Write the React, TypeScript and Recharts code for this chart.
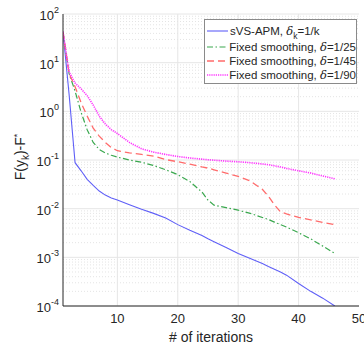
import React from 'react';
import { LineChart, Line, XAxis, YAxis, CartesianGrid, Legend, Label } from 'recharts';

const iterations = [1, 2, 3, 4, 5, 6, 7, 8, 9, 10, 12, 14, 16, 18, 20, 22, 24, 25, 26, 28, 30, 32, 34, 35, 36, 37, 38, 40, 42, 44, 46];

const sVsApm = [43, 2.3, 0.088, 0.06, 0.04, 0.03, 0.023, 0.019, 0.0165, 0.015, 0.012, 0.0097, 0.008, 0.0064, 0.0047, 0.0036, 0.0028, 0.0024, 0.0021, 0.0016, 0.0012, 0.00095, 0.00075, 0.00065, 0.00057, 0.0005, 0.00043, 0.00029, 0.0002, 0.000145, 0.0001];
const fixed25 = [43, 6, 2.6, 0.95, 0.42, 0.23, 0.165, 0.14, 0.125, 0.115, 0.1, 0.09, 0.077, 0.063, 0.05, 0.036, 0.022, 0.015, 0.0118, 0.0105, 0.0093, 0.008, 0.0066, 0.006, 0.0053, 0.0047, 0.0042, 0.0032, 0.0024, 0.0017, 0.0012];
const fixed45 = [43, 6, 3.2, 1.5, 0.8, 0.45, 0.31, 0.23, 0.18, 0.155, 0.14, 0.13, 0.12, 0.102, 0.092, 0.082, 0.072, 0.068, 0.063, 0.054, 0.046, 0.037, 0.025, 0.018, 0.012, 0.0086, 0.0078, 0.0066, 0.0059, 0.0052, 0.0047];
const fixed90 = [43, 6.5, 3.8, 2.9, 2.1, 1.35, 0.8, 0.55, 0.42, 0.35, 0.23, 0.17, 0.145, 0.13, 0.118, 0.11, 0.104, 0.101, 0.099, 0.095, 0.092, 0.088, 0.083, 0.08, 0.076, 0.072, 0.067, 0.06, 0.054, 0.047, 0.041];

const xTicks = [10, 20, 30, 40, 50];
const yTicks = [1e-4, 1e-3, 1e-2, 1e-1, 1, 10, 100];
const yMinor = yTicks.slice(0, -1).flatMap((d) => [2, 3, 4, 5, 6, 7, 8, 9].map((m) => m * d));

const data = iterations.map((k, i) => ({
  k,
  apm: sVsApm[i],
  d25: fixed25[i],
  d45: fixed45[i],
  d90: fixed90[i],
}));

const FONT = '"Liberation Sans", Arial, Helvetica, sans-serif';
const INK = '#262626';

const series = [
  { key: 'apm', color: '#5f5ff7', dash: undefined, width: 1.1, name: 'sVS-APM', delta: 'k', value: '1/k' },
  { key: 'd25', color: '#3aa84e', dash: '6 2.5 1.5 2.5', width: 1.2, name: 'Fixed smoothing', delta: '', value: '1/25' },
  { key: 'd45', color: '#ff6b6b', dash: '7 4', width: 1.3, name: 'Fixed smoothing', delta: '', value: '1/45' },
  { key: 'd90', color: '#ff33ff', dash: '1.2 1', width: 1.6, name: 'Fixed smoothing', delta: '', value: '1/90' },
];

const LogTick = (props: any) => {
  const { x, y, payload } = props;
  const exp = Math.round(Math.log10(payload.value));
  return (
    <text x={x} y={y} textAnchor="end" fontSize={13} fill={INK} fontFamily={FONT}>
      <tspan dy={6}>10</tspan>
      <tspan dy={-7} fontSize={9}>{exp}</tspan>
    </text>
  );
};

const YTitle = () => (
  <text transform="translate(25,157) rotate(-90)" textAnchor="middle" fontSize={14} fill={INK} fontFamily={FONT}>
    F(y
    <tspan dy={4} fontSize={10}>k</tspan>
    <tspan dy={-4}>)-F</tspan>
    <tspan dy={-5} fontSize={9}>*</tspan>
  </text>
);

const rowHeights = [19, 14, 14, 14];

const LegendBox = () => (
  <div
    style={{
      border: '1px solid #8a8a8a',
      background: '#fff',
      width: 151,
      paddingTop: 1,
      paddingBottom: 1,
      fontFamily: FONT,
      fontSize: 11.5,
      color: INK,
    }}
  >
    {series.map((s, i) => (
      <div key={s.key} style={{ display: 'flex', alignItems: 'center', height: rowHeights[i], whiteSpace: 'nowrap' }}>
        <svg width={22} height={6} style={{ marginLeft: 2, marginRight: 1 }}>
          <line x1={0} y1={3} x2={21} y2={3} stroke={s.color} strokeWidth={s.width} strokeDasharray={s.dash} />
        </svg>
        <span>
          {s.name}, <i style={{ fontFamily: '"DejaVu Serif", serif', fontStyle: 'italic' }}>δ</i>
          {s.delta && <span style={{ fontSize: 8.5, position: 'relative', top: 4 }}>{s.delta}</span>}={s.value}
        </span>
      </div>
    ))}
  </div>
);

export default function App() {
  return (
    <div style={{ position: 'absolute', left: 0, top: 0, width: 364, height: 346, background: '#fff' }}>
      <LineChart width={364} height={346} data={data} margin={{ top: 14, right: 5, bottom: 0, left: 0 }}>
        <CartesianGrid horizontalValues={yMinor} vertical={false} stroke="#e4e4e4" strokeDasharray="1 2" />
        <CartesianGrid horizontalValues={yTicks} verticalValues={[10, 20, 30, 40]} stroke="#e6e6e6" />
        <XAxis
          dataKey="k"
          type="number"
          domain={[1, 50]}
          ticks={xTicks}
          interval={0}
          allowDataOverflow
          stroke={INK}
          tickLine={false}
          tickSize={6}
          tickMargin={2}
          height={40}
          tick={{ fontSize: 13, fill: INK, fontFamily: FONT }}
        >
          <Label value="# of iterations" position="insideBottom" offset={4} fontSize={14} fill={INK} fontFamily={FONT} />
        </XAxis>
        <XAxis xAxisId="top" orientation="top" type="number" domain={[1, 50]} ticks={xTicks} tick={false} tickLine={false} height={0} stroke={INK} />
        <YAxis
          type="number"
          scale="log"
          domain={[1e-4, 100]}
          ticks={yTicks}
          interval={0}
          allowDataOverflow
          width={63}
          stroke={INK}
          tickLine={false}
          tickSize={0}
          tickMargin={4}
          tick={<LogTick />}
        >
          <Label content={<YTitle />} />
        </YAxis>
        <YAxis yAxisId="right" orientation="right" type="number" scale="log" domain={[1e-4, 100]} ticks={yTicks} tick={false} tickLine={false} width={0} stroke={INK} />
        {series.map((s) => (
          <Line
            key={s.key}
            dataKey={s.key}
            type="linear"
            stroke={s.color}
            strokeWidth={s.width}
            strokeDasharray={s.dash}
            dot={false}
            isAnimationActive={false}
          />
        ))}
        <Legend
          layout="vertical"
          align="center"
          verticalAlign="middle"
          wrapperStyle={{ position: 'absolute', left: 204, top: 19, width: 'auto' }}
          content={<LegendBox />}
        />
      </LineChart>
    </div>
  );
}
